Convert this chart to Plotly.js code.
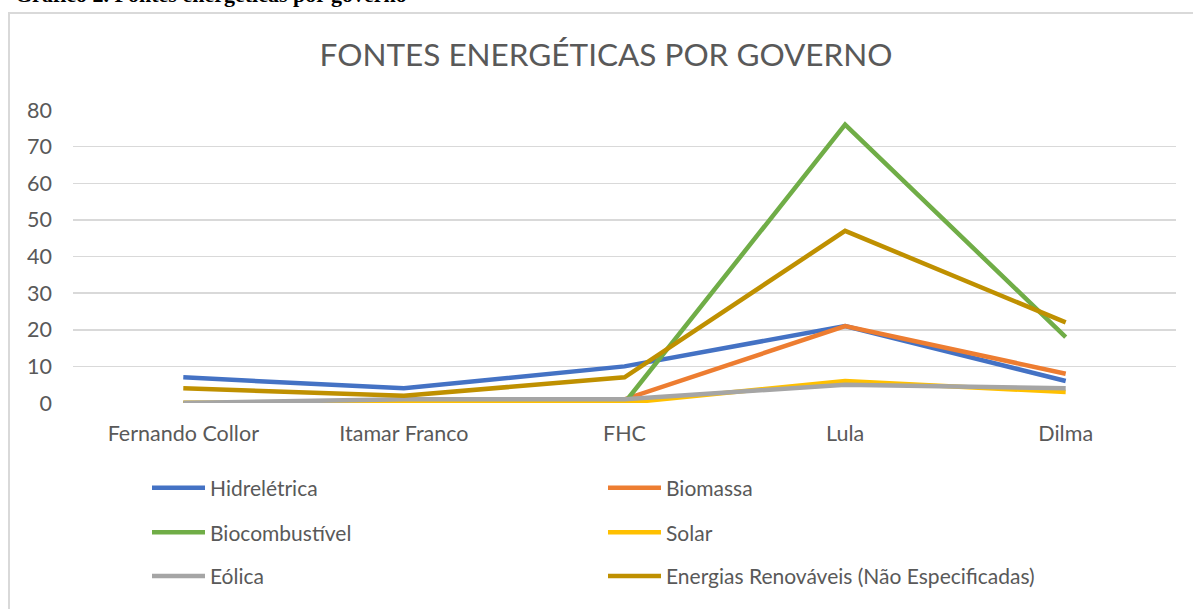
<!DOCTYPE html>
<html>
<head>
<meta charset="utf-8">
<script src="https://cdn.plot.ly/plotly-3.0.1.min.js"></script>
<style>
html,body{margin:0;padding:0;background:#fff;}
#chart{width:1193px;height:609px;}
</style>
</head>
<body>
<div id="chart"></div>
<script>
const categories = ["Fernando Collor", "Itamar Franco", "FHC", "Lula", "Dilma"];
const hidreletrica = [7, 4, 10, 21, 6];
const biomassa = [0, 0, 1, 21, 8];
const biocombustivel = [0, 0, 0, 76, 18];
const solar = [0, 0, 0, 6, 3];
const eolica = [0, 1, 1, 5, 4];
const renovaveis = [4, 2, 7, 47, 22];
const yTicks = [0, 10, 20, 30, 40, 50, 60, 70, 80];

const seriesNames = ["Hidrelétrica", "Biomassa", "Biocombustível", "Solar", "Eólica", "Energias Renováveis (Não Especificadas)"];
const seriesData = [hidreletrica, biomassa, biocombustivel, solar, eolica, renovaveis];
const seriesColors = ["#4472C4", "#ED7D31", "#70AD47", "#FFC000", "#A5A5A5", "#BF9000"];
const legendIds = ["legend", "legend2", "legend3", "legend4", "legend5", "legend6"];

const FONT = "Lato, 'Open Sans', sans-serif";
const TXT = "#595959";

const W = 1193, H = 609;
const mL = 73, mR = 17, mT = 110, mB = 203;
const pw = W - mL - mR, ph = H - mT - mB;
const px = x => (x - mL) / pw;
const py = y => (H - mB - y) / ph;

const traces = seriesNames.map((n, i) => ({
  type: "scatter",
  mode: "lines",
  name: n,
  x: categories,
  y: seriesData[i],
  line: {color: seriesColors[i], width: 4.5},
  legend: legendIds[i],
  hoverinfo: "x+y+name"
}));

const legendPos = [
  [147, 492], [603, 492],
  [147, 537], [603, 537],
  [147, 581], [603, 581]
];
const layout = {
  width: W, height: H,
  margin: {l: mL, r: mR, t: mT, b: mB},
  paper_bgcolor: "#ffffff",
  plot_bgcolor: "#ffffff",
  font: {family: FONT, color: TXT, size: 21},
  title: {
    text: "FONTES ENERGÉTICAS POR GOVERNO",
    font: {family: FONT, size: 31.5, color: TXT},
    x: 0.508, xanchor: "center",
    y: 1 - 55 / H, yanchor: "middle"
  },
  xaxis: {
    type: "category",
    range: [-0.5, 4.5],
    showgrid: false,
    zeroline: false,
    showline: false,
    ticks: "",
    ticklabelstandoff: 15,
    tickfont: {family: FONT, size: 21.5, color: TXT},
    fixedrange: true
  },
  yaxis: {
    range: [0, 80],
    tickvals: yTicks,
    ticktext: yTicks.map(String),
    showgrid: true,
    gridcolor: "#D9D9D9",
    gridwidth: 1.5,
    zeroline: false,
    showline: false,
    ticks: "",
    ticklabelstandoff: 20,
    tickfont: {family: FONT, size: 21.5, color: TXT},
    fixedrange: true
  },
  showlegend: true,
  shapes: [{
    type: "rect", xref: "paper", yref: "paper",
    x0: px(9), x1: px(1300), y0: py(12), y1: py(700),
    line: {color: "#D9D9D9", width: 2},
    fillcolor: "rgba(0,0,0,0)", layer: "below"
  }],
  annotations: [{
    text: "<b>Gráfico 2. Fontes energéticas por governo</b>",
    xref: "paper", yref: "paper",
    x: px(13), xanchor: "left",
    y: py(8), yanchor: "bottom",
    showarrow: false,
    font: {family: "'Liberation Serif', 'DejaVu Serif', serif", size: 22, color: "#000000"}
  }]
};
legendIds.forEach((id, i) => {
  layout[id] = {
    x: px(legendPos[i][0]), xanchor: "left",
    y: py(legendPos[i][1]), yanchor: "middle",
    bgcolor: "rgba(0,0,0,0)",
    borderwidth: 0,
    itemwidth: 53,
    font: {family: FONT, size: 21, color: TXT}
  };
});

Plotly.newPlot("chart", traces, layout, {displayModeBar: false, staticPlot: true});
</script>
</body>
</html>
